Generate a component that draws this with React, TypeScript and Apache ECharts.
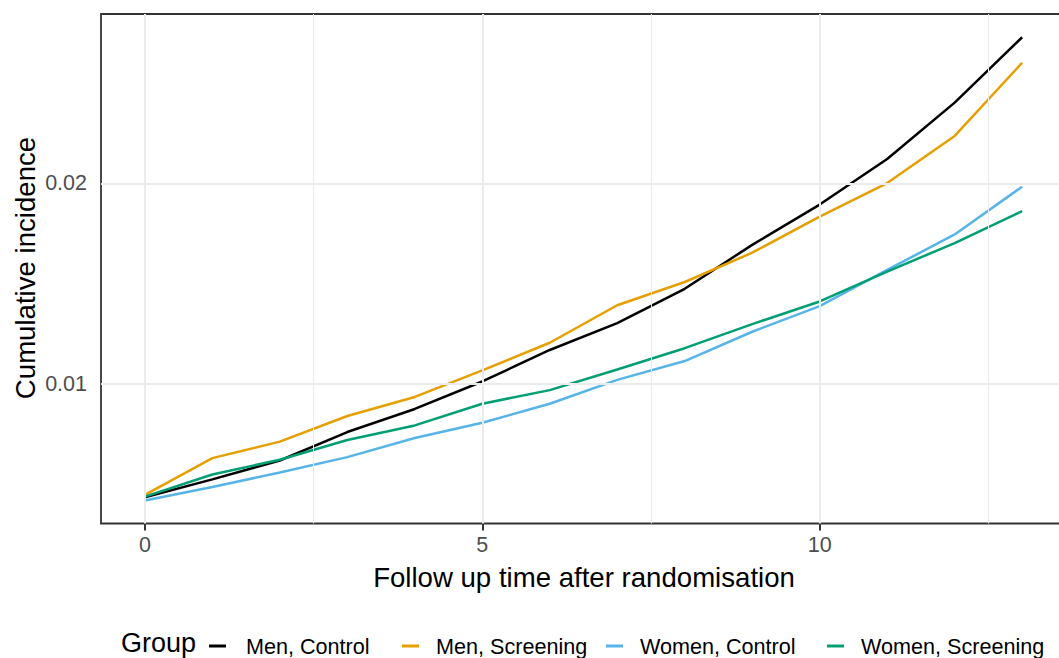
import React, { useEffect, useRef } from "react";
import * as echarts from "echarts";

const years = [0, 1, 2, 3, 4, 5, 6, 7, 8, 9, 10, 11, 12, 13];
const menControl = [0.00435, 0.00524, 0.00618, 0.0076, 0.00875, 0.01012, 0.01169, 0.01303, 0.01474, 0.01693, 0.01894, 0.02121, 0.02402, 0.02728];
const menScreening = [0.00447, 0.0063, 0.00712, 0.0084, 0.00935, 0.01067, 0.01205, 0.01392, 0.01508, 0.01654, 0.01834, 0.02001, 0.02236, 0.02601];
const womenControl = [0.00419, 0.00486, 0.00558, 0.00635, 0.0073, 0.00806, 0.00901, 0.0102, 0.01114, 0.0126, 0.01388, 0.01568, 0.01745, 0.01983];
const womenScreening = [0.00438, 0.00548, 0.00622, 0.0072, 0.00793, 0.00901, 0.00969, 0.01072, 0.01178, 0.01298, 0.01411, 0.0156, 0.01702, 0.01861];

const groupNames = ["Men, Control", "Men, Screening", "Women, Control", "Women, Screening"];
const groupValues = [menControl, menScreening, womenControl, womenScreening];
const groupColors = ["#000000", "#E69F00", "#56B4E9", "#009E73"];

const xMajorTicks = [0, 5, 10];
const xMinorTicks = [2.5, 7.5, 12.5];
const yMajorTicks = [0.01, 0.02];
const yMinorTicks = [0.005, 0.015, 0.025];

const xMin = -0.65;
const xMax = 13.65;
const yMin = 0.00304;
const yMax = 0.02844;

const FONT = "'Liberation Sans', Arial, sans-serif";

export default function App() {
  const ref = useRef<HTMLDivElement>(null);

  useEffect(() => {
    if (!ref.current) return;
    const chart = echarts.init(ref.current, null, { renderer: "svg" });

    const gridColor = "#EBEBEB";
    const majorW = 2.0;
    const minorW = 1.0;

    const gridLines: any[] = [];
    xMinorTicks.forEach((v) => gridLines.push({ xAxis: v, lineStyle: { width: minorW, color: gridColor, type: "solid" } }));
    yMinorTicks.forEach((v) => gridLines.push({ yAxis: v, lineStyle: { width: minorW, color: gridColor, type: "solid" } }));
    xMajorTicks.forEach((v) => gridLines.push({ xAxis: v, lineStyle: { width: majorW, color: gridColor, type: "solid" } }));
    yMajorTicks.forEach((v) => gridLines.push({ yAxis: v, lineStyle: { width: majorW, color: gridColor, type: "solid" } }));

    const series: any[] = [
      {
        name: "_grid",
        type: "line",
        data: [],
        silent: true,
        z: 1,
        markLine: {
          silent: true,
          symbol: "none",
          label: { show: false },
          emphasis: { disabled: true },
          data: gridLines,
        },
      },
    ];
    groupNames.forEach((name, i) => {
      series.push({
        name,
        type: "line",
        z: 3,
        showSymbol: false,
        symbol: "none",
        data: years.map((x, j) => [x, groupValues[i][j]]),
        lineStyle: { color: groupColors[i], width: 2.5 },
        itemStyle: { color: groupColors[i] },
        emphasis: { disabled: true },
      });
    });

    const legendLefts = [209, 402, 606, 827];
    const legendPads = [15, 12, 12, 12];
    const legends = groupNames.map((name, i) => ({
      show: true,
      left: legendLefts[i],
      top: 635,
      padding: 0,
      itemWidth: 17,
      itemHeight: 3,
      selectedMode: false,
      data: [{ name, icon: "rect", itemStyle: { color: groupColors[i] } }],
      textStyle: { fontFamily: FONT, fontSize: 21.6, color: "#000000", padding: [0, 0, 0, legendPads[i]] },
    }));

    chart.setOption({
      animation: false,
      backgroundColor: "#FFFFFF",
      textStyle: { fontFamily: FONT },
      grid: {
        left: 101,
        top: 14,
        width: 965,
        height: 509.5,
        show: true,
        borderColor: "#333333",
        borderWidth: 1.8,
        backgroundColor: "transparent",
        containLabel: false,
        outerBoundsMode: "none",
        z: 4,
      },
      xAxis: {
        type: "value",
        min: xMin,
        max: xMax,
        axisLine: { show: false },
        splitLine: { show: false },
        axisTick: {
          show: true,
          length: 7,
          customValues: xMajorTicks,
          lineStyle: { color: "#333333", width: 2 },
        },
        axisLabel: {
          customValues: xMajorTicks,
          margin: 11,
          fontSize: 21.5,
          lineHeight: 21,
          color: "#4D4D4D",
          fontFamily: FONT,
          formatter: (v: number) => String(v),
        },
      },
      yAxis: {
        type: "value",
        min: yMin,
        max: yMax,
        axisLine: { show: false },
        splitLine: { show: false },
        axisTick: {
          show: true,
          length: 7,
          customValues: yMajorTicks,
          lineStyle: { color: "#333333", width: 2 },
        },
        axisLabel: {
          customValues: yMajorTicks,
          margin: 14,
          fontSize: 21.5,
          lineHeight: 21,
          color: "#4D4D4D",
          fontFamily: FONT,
          formatter: (v: number) => v.toFixed(2),
        },
      },
      legend: legends,
      graphic: [
        {
          type: "text",
          x: 584,
          y: 577,
          style: {
            text: "Follow up time after randomisation",
            fontSize: 27.6,
            lineHeight: 28,
            fontFamily: FONT,
            fill: "#000000",
            align: "center",
            verticalAlign: "middle",
          },
        },
        {
          type: "text",
          x: 25,
          y: 268,
          rotation: Math.PI / 2,
          style: {
            text: "Cumulative incidence",
            fontSize: 27.6,
            lineHeight: 28,
            fontFamily: FONT,
            fill: "#000000",
            align: "center",
            verticalAlign: "middle",
          },
        },
        {
          type: "text",
          x: 121,
          y: 642.5,
          style: {
            text: "Group",
            fontSize: 27,
            lineHeight: 22,
            fontFamily: FONT,
            fill: "#000000",
            align: "left",
            verticalAlign: "middle",
          },
        },
      ],
      series,
    });

    return () => {
      chart.dispose();
    };
  }, []);

  return (
    <div
      ref={ref}
      style={{ position: "absolute", left: 0, top: 0, width: 1059, height: 658, overflow: "hidden" }}
    />
  );
}
